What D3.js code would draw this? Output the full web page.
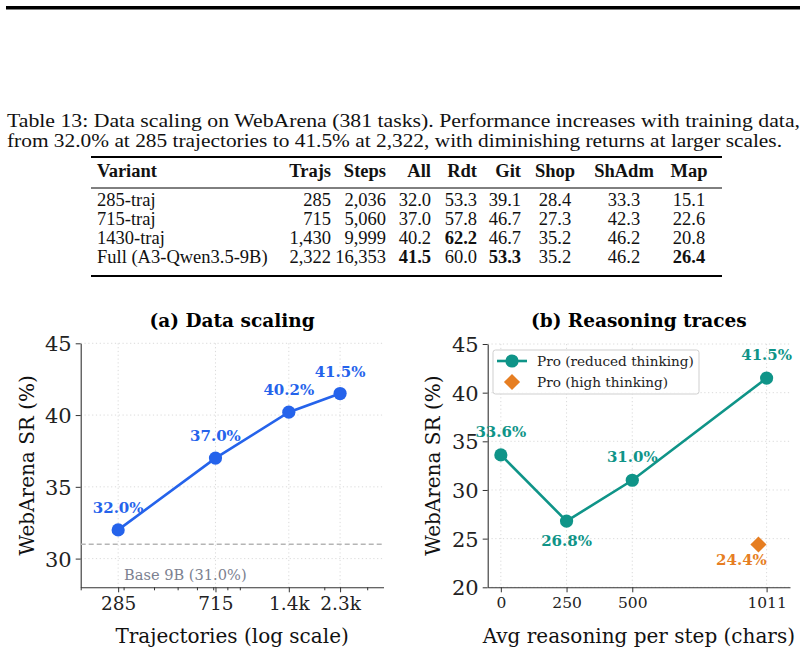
<!DOCTYPE html>
<html>
<head>
<meta charset="utf-8">
<script src="https://cdn.jsdelivr.net/npm/d3@7"></script>
<style>
  body { margin: 0; background: #fff; }
  svg text { font-family: "DejaVu Serif", serif; }
  .tbl text { font-family: "Liberation Serif", serif; fill: #111; }
</style>
</head>
<body>
<svg id="fig" width="807" height="656"></svg>
<script>

// ---- table data ----
var captionLines = [
    "Table 13: Data scaling on WebArena (381 tasks). Performance increases with training data,",
    "from 32.0% at 285 trajectories to 41.5% at 2,322, with diminishing returns at larger scales."
];
var tableColumns = ["Variant", "Trajs", "Steps", "All", "Rdt", "Git", "Shop", "ShAdm", "Map"];
var variants   = ["285-traj", "715-traj", "1430-traj", "Full (A3-Qwen3.5-9B)"];
var trajCounts = ["285", "715", "1,430", "2,322"];
var stepCounts = ["2,036", "5,060", "9,999", "16,353"];
var allSR      = [32.0, 37.0, 40.2, 41.5];
var rdtSR      = [53.3, 57.8, 62.2, 60.0];
var gitSR      = [39.1, 46.7, 46.7, 53.3];
var shopSR     = [28.4, 27.3, 35.2, 35.2];
var shAdmSR    = [33.3, 42.3, 46.2, 46.2];
var mapSR      = [15.1, 22.6, 20.8, 26.4];

// ---- panel (a) data ----
var trajs       = [285, 715, 1430, 2322];
var trajLabels  = ["285", "715", "1.4k", "2.3k"];
var scalingSR   = [32.0, 37.0, 40.2, 41.5];
var minorTrajs  = [200, 300, 400, 500, 600, 700, 800, 900, 2000, 3000];
var baseSR      = 31.0;
var yTicksA     = [30, 35, 40, 45];

// ---- panel (b) data ----
var reasoningChars = [0, 250, 500, 1011];
var reducedSR      = [33.6, 26.8, 31.0, 41.5];
var highChars      = [980];
var highSR         = [24.4];
var yTicksB        = [20, 25, 30, 35, 40, 45];

var BLUE = "#2563eb", TEAL = "#0f9488", ORANGE = "#e67e22";

var svg = d3.select("#fig");

// thick rule at the very top of the page
svg.append("rect")
    .attr("x", 6).attr("y", 6)
    .attr("width", 794).attr("height", 3.5)
    .attr("fill", "#000");

// ================= table =================
var tbl = svg.append("g").attr("class", "tbl");

tbl.selectAll("text.cap")
    .data(captionLines)
    .enter()
    .append("text")
    .attr("class", "cap")
    .attr("x", 7)
    .attr("y", function (d, i) { return 127 + i * 20; })
    .attr("font-size", 19)
    .attr("textLength", function (d, i) { return i ? 775 : 793; })
    .attr("lengthAdjust", "spacingAndGlyphs")
    .text(function (d) { return d; });

var ruleL = 91, ruleR = 722;
[[157, 2], [188, 1], [276, 2]].forEach(function (r) {
    tbl.append("line")
        .attr("x1", ruleL).attr("x2", ruleR)
        .attr("y1", r[0]).attr("y2", r[0])
        .attr("stroke", "#000").attr("stroke-width", r[1]);
});

// column layout: [x, anchor]
var colPos = [
    [97, "start"], [331, "end"], [386, "end"], [431, "end"], [477, "end"],
    [521, "end"], [555, "middle"], [624, "middle"], [689, "middle"]
];

function fmt(v) { return v.toFixed(1); }
function boldMax(arr) {
    var m = d3.max(arr), n = arr.filter(function (v) { return v === m; }).length;
    return arr.map(function (v) { return n === 1 && v === m; });
}

var numCols = [allSR, rdtSR, gitSR, shopSR, shAdmSR, mapSR];
var columns = [
    variants.map(function (v) { return { t: v, b: false }; }),
    trajCounts.map(function (v) { return { t: v, b: false }; }),
    stepCounts.map(function (v) { return { t: v, b: false }; })
].concat(numCols.map(function (col) {
    var b = boldMax(col);
    return col.map(function (v, i) { return { t: fmt(v), b: b[i] }; });
}));

tbl.selectAll("text.hd")
    .data(tableColumns)
    .enter()
    .append("text")
    .attr("class", "hd")
    .attr("x", function (d, i) { return colPos[i][0]; })
    .attr("y", 177)
    .attr("text-anchor", function (d, i) { return colPos[i][1]; })
    .attr("font-size", 18.5)
    .attr("font-weight", "bold")
    .text(function (d) { return d; });

var rowY = [205.5, 224.5, 243.5, 262.5];
columns.forEach(function (col, ci) {
    tbl.selectAll("text.c" + ci)
        .data(col)
        .enter()
        .append("text")
        .attr("x", colPos[ci][0])
        .attr("y", function (d, i) { return rowY[i]; })
        .attr("text-anchor", colPos[ci][1])
        .attr("font-size", 18.5)
        .attr("font-weight", function (d) { return d.b ? "bold" : "normal"; })
        .text(function (d) { return d.t; });
});

// ================= charts =================
function panel(box, x, y, o) {

    var g = svg.append("g");

    // grid
    g.append("g").selectAll("line")
        .data(o.yTicks)
        .enter().append("line")
        .attr("x1", box.left).attr("x2", box.right)
        .attr("y1", y).attr("y2", y)
        .attr("stroke", "#d0d0d0").attr("stroke-width", 0.8)
        .attr("stroke-dasharray", "1.2,2.6");

    g.append("g").selectAll("line")
        .data(o.xTicks)
        .enter().append("line")
        .attr("x1", x).attr("x2", x)
        .attr("y1", box.top).attr("y2", box.bottom)
        .attr("stroke", "#d0d0d0").attr("stroke-width", 0.8)
        .attr("stroke-dasharray", "1.2,2.6");

    // axes
    var xa = g.append("g")
        .attr("transform", "translate(0," + box.bottom + ")")
        .call(d3.axisBottom(x)
            .tickValues(o.xTicks)
            .tickFormat(o.xFormat)
            .tickSize(5).tickPadding(5).tickSizeOuter(0));

    if (o.minor) {
        g.append("g")
            .attr("transform", "translate(0," + box.bottom + ")")
            .call(d3.axisBottom(x).tickValues(o.minor).tickFormat("").tickSize(3).tickSizeOuter(0))
            .call(function (s) { s.select(".domain").remove(); });
    }

    var ya = g.append("g")
        .attr("transform", "translate(" + box.left + ",0)")
        .call(d3.axisLeft(y)
            .tickValues(o.yTicks)
            .tickSize(5).tickPadding(4).tickSizeOuter(0));

    [xa, ya].forEach(function (a) {
        a.attr("font-family", null).attr("font-size", null);
        a.select(".domain").attr("stroke", "#333").attr("stroke-width", 1.1);
        a.selectAll(".tick text").attr("fill", "#222");
    });
    xa.selectAll(".tick text").attr("font-size", o.xTickSize);
    ya.selectAll(".tick text").attr("font-size", 21).attr("dy", "0.36em");
    g.selectAll(".tick line").attr("stroke", "#333");

    // titles
    var cx = (box.left + box.right) / 2;
    g.append("text")
        .attr("x", cx).attr("y", 327)
        .attr("text-anchor", "middle")
        .attr("font-size", 18.5).attr("font-weight", "bold")
        .text(o.title);

    g.append("text")
        .attr("x", cx).attr("y", 643)
        .attr("text-anchor", "middle")
        .attr("font-size", 20)
        .attr("fill", "#111")
        .text(o.xLabel);

    g.append("text")
        .attr("transform", "translate(" + o.yLabelX + "," + (box.top + box.bottom) / 2 + ") rotate(-90)")
        .attr("text-anchor", "middle")
        .attr("font-size", 20)
        .attr("fill", "#111")
        .text("WebArena SR (%)");

    return g;
}

// ---------- (a) ----------
var boxA = { left: 80.7, right: 383.5, top: 343.3, bottom: 587.3 };
var xA = d3.scaleLog().domain([200, 3500]).range([boxA.left, boxA.right]);
var yA = d3.scaleLinear().domain([28, 45]).range([boxA.bottom, boxA.top]);

var gA = panel(boxA, xA, yA, {
    xTicks: trajs,
    xFormat: function (d, i) { return trajLabels[i]; },
    minor: minorTrajs,
    yTicks: yTicksA,
    xTickSize: 18.5,
    title: "(a) Data scaling",
    xLabel: "Trajectories (log scale)",
    yLabelX: 34
});

gA.append("line")
    .attr("x1", boxA.left).attr("x2", boxA.right)
    .attr("y1", yA(baseSR)).attr("y2", yA(baseSR))
    .attr("stroke", "#b5b5b5").attr("stroke-width", 1.3)
    .attr("stroke-dasharray", "5,3");

gA.append("text")
    .attr("x", 124).attr("y", yA(baseSR) + 36)
    .attr("font-size", 14.6)
    .attr("fill", "#7c8190")
    .text("Base 9B (" + baseSR.toFixed(1) + "%)");

var ptsA = trajs.map(function (t, i) { return [t, scalingSR[i]]; });

gA.append("path")
    .datum(ptsA)
    .attr("fill", "none")
    .attr("stroke", BLUE)
    .attr("stroke-width", 2.6)
    .attr("d", d3.line().x(function (d) { return xA(d[0]); }).y(function (d) { return yA(d[1]); }));

gA.selectAll("circle.pt")
    .data(ptsA)
    .enter().append("circle")
    .attr("cx", function (d) { return xA(d[0]); })
    .attr("cy", function (d) { return yA(d[1]); })
    .attr("r", 6.6)
    .attr("fill", BLUE);

gA.selectAll("text.lbl")
    .data(ptsA)
    .enter().append("text")
    .attr("x", function (d) { return xA(d[0]); })
    .attr("y", function (d) { return yA(d[1]) - 17; })
    .attr("text-anchor", "middle")
    .attr("font-size", 15).attr("font-weight", "bold")
    .attr("fill", BLUE)
    .text(function (d) { return d[1].toFixed(1) + "%"; });

// ---------- (b) ----------
var boxB = { left: 487.7, right: 790, top: 344, bottom: 587.3 };
var xB = d3.scaleLinear().domain([-50, 1100]).range([boxB.left, boxB.right]);
var yB = d3.scaleLinear().domain([20, 45]).range([boxB.bottom, boxB.top]);

var gB = panel(boxB, xB, yB, {
    xTicks: reasoningChars,
    xFormat: d3.format("d"),
    yTicks: yTicksB,
    xTickSize: 15.5,
    title: "(b) Reasoning traces",
    xLabel: "Avg reasoning per step (chars)",
    yLabelX: 440
});

var ptsB = reasoningChars.map(function (c, i) { return [c, reducedSR[i]]; });
var ptsHigh = highChars.map(function (c, i) { return [c, highSR[i]]; });

gB.append("path")
    .datum(ptsB)
    .attr("fill", "none")
    .attr("stroke", TEAL)
    .attr("stroke-width", 2.6)
    .attr("d", d3.line().x(function (d) { return xB(d[0]); }).y(function (d) { return yB(d[1]); }));

gB.selectAll("circle.pt")
    .data(ptsB)
    .enter().append("circle")
    .attr("cx", function (d) { return xB(d[0]); })
    .attr("cy", function (d) { return yB(d[1]); })
    .attr("r", 6.6)
    .attr("fill", TEAL);

// labels above, except the dip which sits below
gB.selectAll("text.lbl")
    .data(ptsB)
    .enter().append("text")
    .attr("x", function (d) { return xB(d[0]); })
    .attr("y", function (d, i) { return yB(d[1]) + (i === 1 ? 25 : -18); })
    .attr("text-anchor", "middle")
    .attr("font-size", 15).attr("font-weight", "bold")
    .attr("fill", TEAL)
    .text(function (d) { return d[1].toFixed(1) + "%"; });

var diamond = d3.symbol().type(d3.symbolSquare).size(130);

gB.selectAll("path.hi")
    .data(ptsHigh)
    .enter().append("path")
    .attr("transform", function (d) { return "translate(" + xB(d[0]) + "," + yB(d[1]) + ") rotate(45)"; })
    .attr("d", diamond)
    .attr("fill", ORANGE);

gB.selectAll("text.hi")
    .data(ptsHigh)
    .enter().append("text")
    .attr("x", function (d) { return xB(d[0]) - 17; })
    .attr("y", function (d) { return yB(d[1]) + 21; })
    .attr("text-anchor", "middle")
    .attr("font-size", 15).attr("font-weight", "bold")
    .attr("fill", ORANGE)
    .text(function (d) { return d[1].toFixed(1) + "%"; });

// legend
var leg = gB.append("g").attr("transform", "translate(493,350)");
leg.append("rect")
    .attr("width", 206).attr("height", 44)
    .attr("rx", 2.5)
    .attr("fill", "#fff").attr("fill-opacity", 0.85)
    .attr("stroke", "#cfcfcf").attr("stroke-width", 1);

leg.append("line")
    .attr("x1", 4).attr("x2", 34).attr("y1", 11).attr("y2", 11)
    .attr("stroke", TEAL).attr("stroke-width", 2.6);
leg.append("circle").attr("cx", 19).attr("cy", 11).attr("r", 6.6).attr("fill", TEAL);
leg.append("path")
    .attr("transform", "translate(19,32) rotate(45)")
    .attr("d", diamond)
    .attr("fill", ORANGE);

leg.selectAll("text")
    .data(["Pro (reduced thinking)", "Pro (high thinking)"])
    .enter().append("text")
    .attr("x", 44)
    .attr("y", function (d, i) { return 15.5 + i * 21; })
    .attr("font-size", 13.6)
    .attr("fill", "#222")
    .text(function (d) { return d; });

</script>
</body>
</html>
